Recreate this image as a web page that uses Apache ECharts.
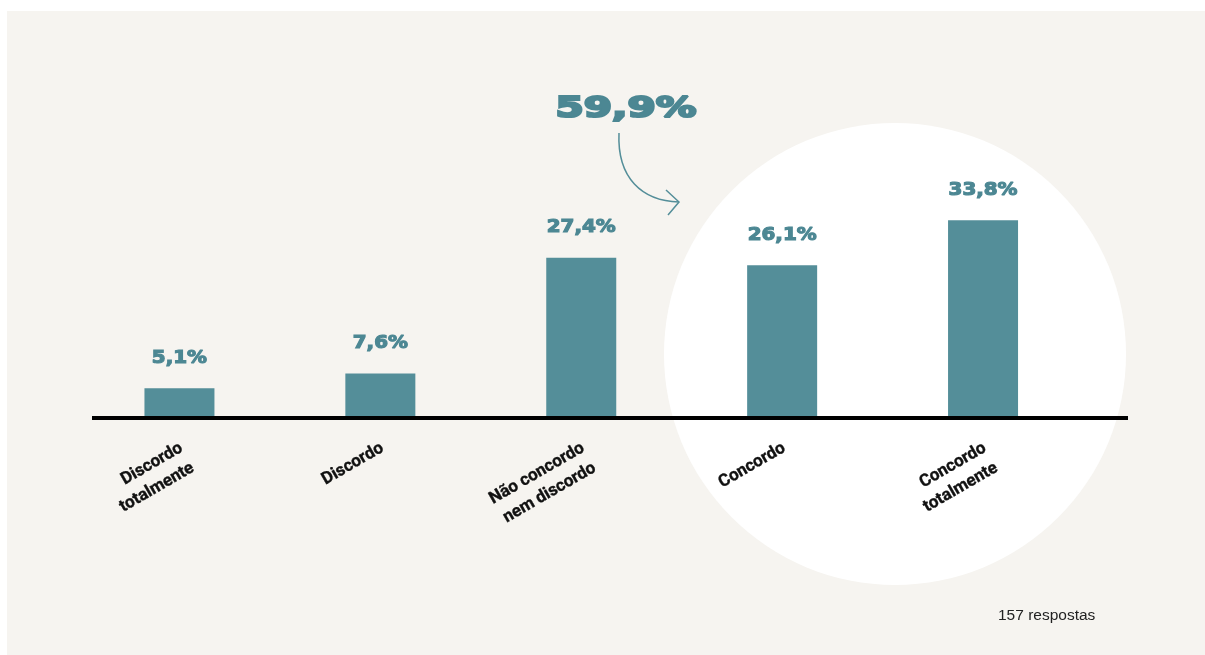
<!DOCTYPE html>
<html>
<head>
<meta charset="utf-8">
<script src="https://cdn.jsdelivr.net/npm/echarts@6/dist/echarts.min.js"></script>
<style>
  html, body { margin: 0; padding: 0; background: #ffffff; }
  #chart { width: 1205px; height: 655px; }
</style>
</head>
<body>
<div id="chart"></div>
<script>
// Survey answers, share of the 157 responses (%)
const categories = [
  'Discordo\ntotalmente',
  'Discordo',
  'Não concordo\nnem discordo',
  'Concordo',
  'Concordo\ntotalmente'
];
const shares = [5.1, 7.6, 27.4, 26.1, 33.8];
// the two "agree" answers are summed into the highlight figure
const agreeIdx = [3, 4];
const footnote = '157 respostas';

const TEAL = '#548e99';
const TEAL_TEXT = '#4c8793';
const PANEL = '#f6f4f0';

const fmt = v => v.toFixed(1).replace('.', ',') + '%';
const agreeTotal = agreeIdx.reduce((s, i) => s + shares[i], 0);

const ROT = Math.PI / 6;      // category label slant
const LABEL_LH = 23;          // category label line height

const chart = echarts.init(document.getElementById('chart'), null, { renderer: 'canvas' });

const option = {
  backgroundColor: '#ffffff',
  animation: false,
  grid: { left: 79, right: 121.5, top: 184, bottom: 237, containLabel: false },
  xAxis: {
    type: 'category',
    data: categories,
    axisLine: { show: false },
    axisTick: { show: false },
    axisLabel: { show: false }
  },
  yAxis: {
    type: 'value',
    min: 0,
    max: 40,
    show: false,
    splitLine: { show: false }
  },
  series: [
    {
      type: 'bar',
      data: shares,
      barWidth: 70,
      z: 3,
      itemStyle: { color: TEAL }
    },
    {
      // value labels above each bar, drawn heavy and slightly widened
      type: 'custom',
      data: shares.map((v, i) => [i, v]),
      z: 4,
      renderItem: function (params, api) {
        const p = api.coord([api.value(0), api.value(1)]);
        return {
          type: 'text',
          x: p[0],
          y: p[1] - 30,
          scaleX: 1.17,
          style: {
            text: fmt(api.value(1)),
            x: 0,
            y: 0,
            align: 'center',
            verticalAlign: 'middle',
            font: 'bold 17px "DejaVu Sans"',
            fill: TEAL_TEXT,
            stroke: TEAL_TEXT,
            lineWidth: 1.1
          }
        };
      }
    },
    {
      // slanted category names under the baseline
      type: 'custom',
      data: categories.map((c, i) => [i, 0]),
      clip: false,
      z: 4,
      renderItem: function (params, api) {
        const p = api.coord([api.value(0), 0]);
        const half = LABEL_LH / 2;
        return {
          type: 'text',
          x: p[0] + 2 - half * Math.sin(ROT),
          y: p[1] + 29 - half * Math.cos(ROT),
          rotation: ROT,
          style: {
            text: categories[params.dataIndex],
            x: 0,
            y: 0,
            align: 'right',
            verticalAlign: 'top',
            lineHeight: LABEL_LH,
            font: 'bold 17px Roboto',
            fill: '#111111',
            stroke: '#111111',
            lineWidth: 0.35
          }
        };
      }
    }
  ],
  graphic: [
    {
      type: 'rect',
      id: 'panel',
      z: -10,
      silent: true,
      shape: { x: 7, y: 11, width: 1198, height: 644 },
      style: { fill: PANEL }
    },
    {
      type: 'circle',
      id: 'halo',
      z: -5,
      silent: true,
      shape: { cx: 895, cy: 354, r: 231 },
      style: { fill: '#ffffff' }
    },
    {
      type: 'text',
      id: 'total',
      z: 5,
      x: 626,
      y: 109,
      scaleX: 1.4,
      style: {
        text: fmt(agreeTotal),
        x: 0,
        y: 0,
        align: 'center',
        verticalAlign: 'middle',
        font: 'bold 29px "DejaVu Sans"',
        fill: TEAL_TEXT,
        stroke: TEAL_TEXT,
        lineWidth: 2.2
      }
    },
    {
      type: 'bezierCurve',
      id: 'arrowLine',
      z: 5,
      shape: { x1: 619, y1: 133, cpx1: 617, cpy1: 178, cpx2: 642, cpy2: 201, x2: 679, y2: 202 },
      style: { stroke: TEAL, lineWidth: 1.5, fill: null }
    },
    {
      type: 'polyline',
      id: 'arrowHead',
      z: 5,
      shape: { points: [[666, 190], [679, 202], [668, 215]] },
      style: { stroke: TEAL, lineWidth: 1.5, fill: null }
    },
    {
      type: 'text',
      id: 'note',
      z: 5,
      x: 998,
      y: 616,
      style: {
        text: footnote,
        align: 'left',
        verticalAlign: 'middle',
        font: '15.5px "Liberation Sans"',
        fill: '#222222'
      }
    }
  ]
};

chart.setOption(option);

// heavy baseline at zero, running wider than the bar band
const y0 = chart.convertToPixel({ yAxisIndex: 0 }, 0);
chart.setOption({
  graphic: [
    {
      type: 'rect',
      id: 'baseline',
      z: 6,
      shape: { x: 92, y: y0 - 2, width: 1036, height: 4 },
      style: { fill: '#000000' }
    }
  ]
});
</script>
</body>
</html>
